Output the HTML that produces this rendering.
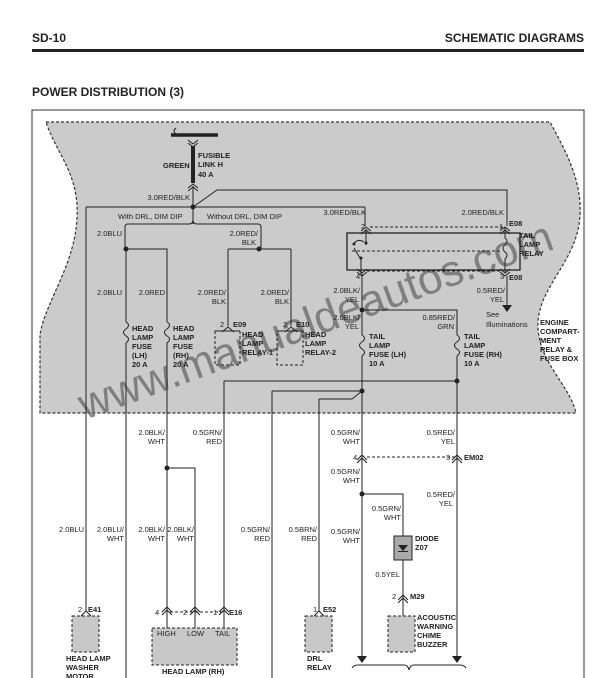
<!DOCTYPE html>
<html><head><style>
html,body{margin:0;padding:0;background:#fff;}
svg{display:block;}
text{font-family:"Liberation Sans",sans-serif;font-size:7.5px;fill:#222;}
.b{font-weight:bold;font-size:7.5px;}
.r{text-anchor:end;}
</style></head><body>
<svg width="614" height="678" viewBox="0 0 614 678" xmlns="http://www.w3.org/2000/svg">
<!-- header -->
<text x="32" y="42" style="font-size:12px;font-weight:bold">SD-10</text>
<text x="584" y="42" class="r" style="font-size:12px;font-weight:bold">SCHEMATIC DIAGRAMS</text>
<rect x="32" y="49" width="552" height="3" fill="#222"/>
<text x="32" y="96" style="font-size:12px;font-weight:bold">POWER DISTRIBUTION  (3)</text>
<!-- frame -->
<path d="M32 678 V110 H584 V678" fill="none" stroke="#333" stroke-width="1"/>
<!-- gray region -->
<path d="M46 122 H550 C565 150 582 180 580 215 C578 260 540 285 538 322 C536 360 570 385 576 413 H40 V335 C45 300 80 260 77 205 C75 170 55 150 46 122 Z" fill="#cbcbcb" stroke="#333" stroke-width="1.2" stroke-dasharray="3,2"/>
<!-- watermark -->
<text x="85" y="420" transform="rotate(-20 85 420)" style="font-size:44px;fill:#666;opacity:0.75">www.manualdeautos.com</text>
<g stroke="#222" stroke-width="1" fill="none">
<!-- fusible link -->
<line x1="171" y1="135" x2="218" y2="135" stroke-width="3.5"/>
<path d="M176 128 q-4 3 0 6"/>
<path d="M188 140 l5 4 l5 -4 M188 143 l5 4 l5 -4"/>
<line x1="193" y1="146" x2="193" y2="183" stroke-width="4"/>
<path d="M188 188 l5 -4 l5 4 M188 191 l5 -4 l5 4"/>
<line x1="193" y1="186" x2="193" y2="224"/>
<!-- main bus -->
<line x1="86" y1="207" x2="365" y2="207"/>
<line x1="365" y1="207" x2="365" y2="226"/>
<path d="M193 207 L217 190 H507 V226"/>
<line x1="86" y1="207" x2="86" y2="612"/>
<!-- DRL branches -->
<path d="M193 220 q0 4 -4 4 H128 q-3 0 -3 3 V249"/>
<path d="M193 220 q0 4 4 4 H258 q3 0 3 3 V249"/>
<path d="M126 249 V322 M126 249 H167 V322"/>
<path d="M228 249 H291 M228 249 V326 M291 249 V326"/>
<!-- fuses head lamp -->
<path d="M126 322 q5 3 0 7 q-5 3 0 7 q5 3 0 7 V678"/>
<path d="M167 322 q5 3 0 7 q-5 3 0 7 q5 3 0 7 V470"/>
<!-- relay connectors -->
<path d="M222 332 l6 -5 l6 5 M285 332 l6 -5 l6 5"/>
</g>
<g stroke="#222" stroke-width="1" fill="none" stroke-dasharray="3,2">
<rect x="215" y="331" width="25" height="34"/>
<rect x="277" y="331" width="26" height="34"/>
<path d="M240 331 H216 M303 331 H278"/>
<line x1="370" y1="227" x2="503" y2="227"/>
<line x1="352" y1="251" x2="500" y2="251"/>
<line x1="367" y1="271" x2="503" y2="271"/>
<line x1="170" y1="612" x2="224" y2="612"/>
<line x1="367" y1="457" x2="455" y2="457"/>
<rect x="72" y="616" width="27" height="36" fill="#c8c8c8"/>
<rect x="152" y="628" width="85" height="37" fill="#c8c8c8"/>
<rect x="305" y="616" width="27" height="36" fill="#c8c8c8"/>
<rect x="388" y="616" width="27" height="36" fill="#c8c8c8"/>
</g>
<g stroke="#222" stroke-width="1" fill="none">
<!-- tail lamp relay -->
<rect x="347" y="233" width="173" height="37" stroke-width="1.3"/>
<path d="M361 231 l5 -4 l5 4 M361 234 l5 -4 l5 4"/>
<path d="M366 229 V245"/>
<path d="M500 231 l5 -4 l5 4 M500 234 l5 -4 l5 4"/>
<path d="M505 228 V238 q4 3 0 7 q-4 3 0 7 q4 3 0 7 V272"/>
<path d="M354 244 q3 -6 10 -2"/>
<path d="M354 248 L361 260 V274"/>
<path d="M357 272 l5 4 l5 -4 M357 269 l5 4 l5 -4"/>
<path d="M500 272 l5 4 l5 -4 M500 269 l5 4 l5 -4"/>
<path d="M362 274 V335 q5 3 0 7 q-5 3 0 7 q5 3 0 7 V660"/>
<path d="M507 276 V306"/>
<path d="M362 310 H457 V335 q5 3 0 7 q-5 3 0 7 q5 3 0 7 V660"/>
<!-- lower buses -->
<path d="M224 381 H457 M224 381 V612"/>
<path d="M272 391 H362 M272 391 V678"/>
<path d="M319 399 H352 L362 391 M319 399 V612"/>
<!-- head lamp rh -->
<path d="M167 468 H195 V612"/>
<path d="M167 468 V612"/>
<path d="M162 612 l5 -5 l5 5 M162 615 l5 -5 l5 5 M167 610 V628"/>
<path d="M190 612 l5 -5 l5 5 M190 615 l5 -5 l5 5 M195 610 V628"/>
<path d="M219 612 l5 -5 l5 5 M219 615 l5 -5 l5 5 M224 610 V628"/>
<path d="M81 616 l5 -5 l5 5"/>
<path d="M314 616 l5 -5 l5 5"/>
<!-- EM02 -->
<path d="M357 460 l5 -5 l5 5 M357 463 l5 -5 l5 5"/>
<path d="M452 460 l5 -5 l5 5 M452 463 l5 -5 l5 5"/>
<!-- diode -->
<path d="M362 494 H403 V536 M403 560 V616"/>
<rect x="394" y="536" width="18" height="24" fill="#aaa"/>
<path d="M398 600 l5 -5 l5 5 M398 603 l5 -5 l5 5"/>
<!-- brace -->
<path d="M352 668 q2 -3 6 -3 H404 q4 0 5 5 q1 -5 5 -5 H460 q4 0 6 3"/>
</g>
<g fill="#222">
<circle cx="193" cy="207" r="2.5"/>
<circle cx="126" cy="249" r="2.5"/>
<circle cx="259" cy="249" r="2.5"/>
<circle cx="362" cy="310" r="2.5"/>
<circle cx="457" cy="381" r="2.5"/>
<circle cx="362" cy="391" r="2.5"/>
<circle cx="167" cy="468" r="2.5"/>
<circle cx="362" cy="494" r="2.5"/>
<circle cx="354" cy="244" r="1.5"/><circle cx="366" cy="243" r="1.5"/><circle cx="361" cy="258" r="1.5"/>
<path d="M502 305 h10 l-5 7 z"/>
<path d="M357 656 h10 l-5 7 z"/>
<path d="M452 656 h10 l-5 7 z"/>
<path d="M398 545 h10 l-5 6 z"/><rect x="398" y="551" width="10" height="1"/>
</g>
<!-- labels top -->
<text x="163" y="168" class="b">GREEN</text>
<text x="198" y="158" class="b">FUSIBLE</text>
<text x="198" y="167" class="b">LINK H</text>
<text x="198" y="177" class="b">40 A</text>
<text x="190" y="200" class="r">3.0RED/BLK</text>
<text x="118" y="219">With DRL, DIM DIP</text>
<text x="207" y="219">Without DRL, DIM DIP</text>
<text x="366" y="215" class="r">3.0RED/BLK</text>
<text x="504" y="215" class="r">2.0RED/BLK</text>
<text x="122" y="236" class="r">2.0BLU</text>
<text x="258" y="236" class="r">2.0RED/</text>
<text x="256" y="245" class="r">BLK</text>
<text x="122" y="295" class="r">2.0BLU</text>
<text x="165" y="295" class="r">2.0RED</text>
<text x="226" y="295" class="r">2.0RED/</text>
<text x="226" y="304" class="r">BLK</text>
<text x="289" y="295" class="r">2.0RED/</text>
<text x="289" y="304" class="r">BLK</text>
<text x="132" y="331" class="b">HEAD</text><text x="132" y="340" class="b">LAMP</text><text x="132" y="349" class="b">FUSE</text><text x="132" y="358" class="b">(LH)</text><text x="132" y="367" class="b">20 A</text>
<text x="173" y="331" class="b">HEAD</text><text x="173" y="340" class="b">LAMP</text><text x="173" y="349" class="b">FUSE</text><text x="173" y="358" class="b">(RH)</text><text x="173" y="367" class="b">20 A</text>
<text x="220" y="327">2</text><text x="233" y="327" class="b">E09</text>
<text x="283" y="327">2</text><text x="296" y="327" class="b">E10</text>
<text x="242" y="337" class="b">HEAD</text><text x="242" y="346" class="b">LAMP</text><text x="242" y="355" class="b">RELAY-1</text>
<text x="305" y="337" class="b">HEAD</text><text x="305" y="346" class="b">LAMP</text><text x="305" y="355" class="b">RELAY-2</text>
<text x="361" y="229">2</text><text x="499" y="229">1</text><text x="509" y="226" class="b">E08</text>
<text x="519" y="238" class="b">TAIL</text><text x="519" y="247" class="b">LAMP</text><text x="519" y="256" class="b">RELAY</text>
<text x="356" y="279">4</text><text x="500" y="279">3</text><text x="509" y="280" class="b">E08</text>
<text x="360" y="293" class="r">2.0BLK/</text><text x="359" y="302" class="r">YEL</text>
<text x="505" y="293" class="r">0.5RED/</text><text x="504" y="302" class="r">YEL</text>
<text x="486" y="317">See</text><text x="486" y="327">Illuminations</text>
<text x="360" y="320" class="r">2.0BLK/</text><text x="359" y="329" class="r">YEL</text>
<text x="455" y="320" class="r">0.85RED/</text><text x="454" y="329" class="r">GRN</text>
<text x="369" y="339" class="b">TAIL</text><text x="369" y="348" class="b">LAMP</text><text x="369" y="357" class="b">FUSE (LH)</text><text x="369" y="366" class="b">10 A</text>
<text x="464" y="339" class="b">TAIL</text><text x="464" y="348" class="b">LAMP</text><text x="464" y="357" class="b">FUSE (RH)</text><text x="464" y="366" class="b">10 A</text>
<text x="540" y="325" class="b">ENGINE</text><text x="540" y="334" class="b">COMPART-</text><text x="540" y="343" class="b">MENT</text><text x="540" y="352" class="b">RELAY &amp;</text><text x="540" y="361" class="b">FUSE BOX</text>
<!-- labels bottom -->
<text x="165" y="435" class="r">2.0BLK/</text><text x="165" y="444" class="r">WHT</text>
<text x="222" y="435" class="r">0.5GRN/</text><text x="222" y="444" class="r">RED</text>
<text x="360" y="435" class="r">0.5GRN/</text><text x="360" y="444" class="r">WHT</text>
<text x="455" y="435" class="r">0.5RED/</text><text x="455" y="444" class="r">YEL</text>
<text x="353" y="460">4</text><text x="446" y="460">3</text><text x="464" y="460" class="b">EM02</text>
<text x="360" y="474" class="r">0.5GRN/</text><text x="360" y="483" class="r">WHT</text>
<text x="455" y="497" class="r">0.5RED/</text><text x="453" y="506" class="r">YEL</text>
<text x="401" y="511" class="r">0.5GRN/</text><text x="401" y="520" class="r">WHT</text>
<text x="415" y="541" class="b">DIODE</text><text x="415" y="550" class="b">Z07</text>
<text x="84" y="532" class="r">2.0BLU</text>
<text x="124" y="532" class="r">2.0BLU/</text><text x="124" y="541" class="r">WHT</text>
<text x="165" y="532" class="r">2.0BLK/</text><text x="165" y="541" class="r">WHT</text>
<text x="194" y="532" class="r">2.0BLK/</text><text x="194" y="541" class="r">WHT</text>
<text x="270" y="532" class="r">0.5GRN/</text><text x="270" y="541" class="r">RED</text>
<text x="317" y="532" class="r">0.5BRN/</text><text x="317" y="541" class="r">RED</text>
<text x="360" y="534" class="r">0.5GRN/</text><text x="360" y="543" class="r">WHT</text>
<text x="400" y="577" class="r">0.5YEL</text>
<text x="392" y="599">2</text><text x="410" y="599" class="b">M29</text>
<text x="78" y="612">2</text><text x="88" y="612" class="b">E41</text>
<text x="155" y="615">4</text><text x="183" y="615">2</text><text x="213" y="615">1</text><text x="229" y="615" class="b">E16</text>
<text x="313" y="612">1</text><text x="323" y="612" class="b">E52</text>
<text x="157" y="636">HIGH</text><text x="187" y="636">LOW</text><text x="215" y="636">TAIL</text>
<text x="66" y="661" class="b">HEAD LAMP</text><text x="66" y="670" class="b">WASHER</text><text x="66" y="679" class="b">MOTOR</text>
<text x="162" y="674" class="b">HEAD LAMP (RH)</text>
<text x="307" y="661" class="b">DRL</text><text x="307" y="670" class="b">RELAY</text>
<text x="417" y="620" class="b">ACOUSTIC</text><text x="417" y="629" class="b">WARNING</text><text x="417" y="638" class="b">CHIME</text><text x="417" y="647" class="b">BUZZER</text>
</svg>
</body></html>
